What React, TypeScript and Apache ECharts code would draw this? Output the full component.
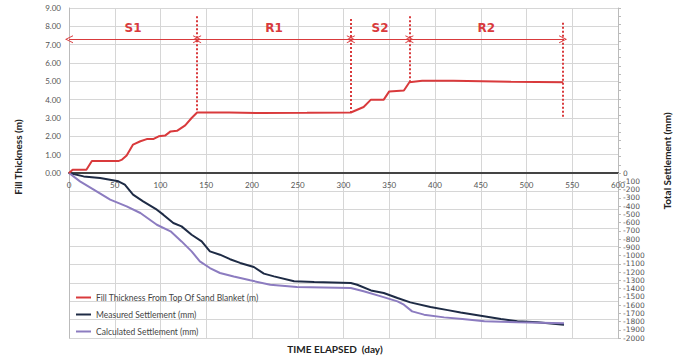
import React, { useEffect, useRef } from 'react';
import * as echarts from 'echarts';

const FONT = 'Lato, "Open Sans", sans-serif';

const fillName = 'Fill Thickness From Top Of Sand Blanket (m)';
const measuredName = 'Measured Settlement (mm)';
const calcName = 'Calculated Settlement (mm)';

const fillDays = [0, 4, 19, 25, 54, 58, 63, 70, 78, 85, 92, 98, 105, 111, 118, 127, 134, 140, 175, 210, 260, 308, 322, 330, 344, 350, 366, 372, 386, 420, 483, 540];
const fillThickness = [0, 0.18, 0.18, 0.65, 0.65, 0.73, 0.95, 1.55, 1.73, 1.85, 1.85, 2.0, 2.04, 2.27, 2.3, 2.6, 3.0, 3.3, 3.3, 3.27, 3.28, 3.3, 3.6, 4.0, 4.0, 4.45, 4.5, 4.95, 5.03, 5.03, 4.98, 4.95];

const measuredDays = [0, 16, 34, 54, 61, 70, 81, 96, 103, 114, 123, 134, 145, 154, 165, 176, 187, 202, 213, 224, 246, 268, 308, 315, 330, 344, 359, 373, 395, 414, 428, 450, 472, 490, 512, 541];
const measuredSettlement = [0, -41, -61, -101, -142, -263, -344, -445, -505, -606, -647, -748, -829, -950, -990, -1045, -1090, -1139, -1220, -1253, -1313, -1321, -1333, -1354, -1423, -1454, -1515, -1568, -1624, -1662, -1690, -1730, -1770, -1798, -1810, -1840];

const calcDays = [0, 12, 27, 45, 63, 78, 96, 111, 123, 134, 143, 154, 165, 180, 198, 220, 249, 308, 322, 341, 359, 366, 375, 388, 410, 430, 454, 490, 541];
const calcSettlement = [0, -101, -202, -323, -404, -485, -627, -707, -829, -950, -1071, -1152, -1212, -1255, -1301, -1354, -1382, -1394, -1434, -1495, -1556, -1596, -1677, -1717, -1750, -1770, -1798, -1810, -1820];

const phaseNames = ['S1', 'R1', 'S2', 'R2'];
const phaseStarts = [0, 140, 308, 372];
const phaseEnds = [140, 308, 372, 540];
const phaseArrowLevel = 7.3;

const markerDays = [140, 308, 372, 540];
const markerTops = [8.55, 8.4, 8.55, 8.2];
const markerBottoms = [3.3, 3.3, 4.95, 3.0];

const RED = '#d93a3c';
const NAVY = '#1e2b45';
const PURPLE = '#8c7cc0';
const GRID = '#d6d6d6';

const chevron = 'path://M0,10 L5,0 L10,10 L8.8,10 L5,2.4 L1.2,10 Z';

const GRID_TOP = 8;
const GRID_BOTTOM = 20;
const CHART_H = 358;

export default function App() {
  const ref = useRef<HTMLDivElement>(null);

  useEffect(() => {
    if (!ref.current) return;
    const chart = echarts.init(ref.current, undefined, { renderer: 'svg' });

    const zip = (xs: number[], ys: number[]) => xs.map((x, i) => [x, ys[i]]);
    const plotH = CHART_H - GRID_TOP - GRID_BOTTOM;

    const option: any = {
      animation: false,
      grid: { left: 69, right: 64, top: GRID_TOP, bottom: GRID_BOTTOM },
      legend: {
        orient: 'vertical',
        left: 76,
        top: 292,
        padding: 0,
        icon: 'rect',
        itemWidth: 15,
        itemHeight: 2,
        itemGap: 6,
        data: [fillName, measuredName, calcName],
        textStyle: { fontSize: 8.5, color: '#444', fontFamily: FONT, lineHeight: 11 },
      },
      xAxis: {
        type: 'value',
        min: 0,
        max: 600,
        interval: 50,
        position: 'bottom',
        offset: -plotH / 2,
        axisLine: { onZero: false, lineStyle: { color: '#444', width: 2 } },
        axisTick: { show: false },
        axisLabel: { fontSize: 8, color: '#555', margin: 8, fontFamily: FONT },
        splitLine: { show: true, lineStyle: { color: GRID } },
      },
      yAxis: [
        {
          type: 'value',
          min: -9,
          max: 9,
          interval: 1,
          position: 'left',
          axisLine: { show: true, lineStyle: { color: '#bbb' } },
          axisTick: { show: false },
          axisLabel: {
            fontSize: 8,
            color: '#555',
            margin: 8,
            fontFamily: FONT,
            formatter: (v: number) => (v >= 0 ? v.toFixed(2) : ''),
          },
          splitLine: { show: true, lineStyle: { color: GRID } },
        },
        {
          type: 'value',
          min: -2000,
          max: 2000,
          interval: 100,
          position: 'right',
          axisLine: { show: true, lineStyle: { color: '#bbb' } },
          axisTick: { show: true, length: 3, lineStyle: { color: '#bbb' } },
          axisLabel: {
            fontSize: 7.5,
            lineHeight: 8,
            color: '#555',
            margin: 5,
            fontFamily: '"DejaVu Sans", sans-serif',
            formatter: (v: number) => (v <= 0 ? String(v) : ''),
          },
          splitLine: { show: false },
        },
      ],
      series: [
        {
          name: fillName,
          type: 'line',
          yAxisIndex: 0,
          data: zip(fillDays, fillThickness),
          showSymbol: false,
          lineStyle: { color: RED, width: 2 },
          itemStyle: { color: RED },
          z: 5,
          markLine: {
            silent: true,
            symbol: 'none',
            label: { show: false },
            lineStyle: { color: RED, type: 'dotted', width: 2 },
            data: markerDays.map((d, i) => [
              { coord: [d, markerTops[i]] },
              { coord: [d, markerBottoms[i]] },
            ]),
          },
        },
        {
          name: measuredName,
          type: 'line',
          yAxisIndex: 1,
          data: zip(measuredDays, measuredSettlement),
          showSymbol: false,
          lineStyle: { color: NAVY, width: 2 },
          itemStyle: { color: NAVY },
        },
        {
          name: calcName,
          type: 'line',
          yAxisIndex: 1,
          data: zip(calcDays, calcSettlement),
          showSymbol: false,
          lineStyle: { color: PURPLE, width: 2 },
          itemStyle: { color: PURPLE },
        },
        {
          name: 'Phases',
          type: 'line',
          yAxisIndex: 0,
          data: [],
          markLine: {
            silent: true,
            symbol: [chevron, chevron],
            symbolSize: [8, 8],
            lineStyle: { color: RED, type: 'solid', width: 1 },
            itemStyle: { color: RED },
            label: {
              show: true,
              position: 'middle',
              formatter: '{b}',
              color: RED,
              fontSize: 12,
              fontWeight: 'bold',
              fontFamily: '"DejaVu Sans", sans-serif',
              distance: 5,
            },
            data: phaseNames.map((n, i) => [
              { name: n, coord: [phaseStarts[i], phaseArrowLevel] },
              { coord: [phaseEnds[i], phaseArrowLevel] },
            ]),
          },
        },
      ],
      graphic: [
        {
          type: 'text',
          x: 18,
          y: 157,
          rotation: Math.PI / 2,
          style: {
            text: 'Fill Thickness (m)',
            fontSize: 10,
            fontWeight: 'bold',
            fill: '#222',
            align: 'center',
            verticalAlign: 'middle',
            fontFamily: FONT,
          },
        },
        {
          type: 'text',
          x: 667,
          y: 161,
          rotation: Math.PI / 2,
          style: {
            text: 'Total Settlement (mm)',
            fontSize: 10,
            fontWeight: 'bold',
            fill: '#222',
            align: 'center',
            verticalAlign: 'middle',
            fontFamily: FONT,
          },
        },
        {
          type: 'text',
          x: 335,
          y: 349,
          style: {
            text: 'TIME ELAPSED  (day)',
            fontSize: 10,
            fontWeight: 'bold',
            fill: '#222',
            align: 'center',
            verticalAlign: 'middle',
            fontFamily: FONT,
          },
        },
      ],
    };

    chart.setOption(option);
    return () => chart.dispose();
  }, []);

  return (
    <div
      ref={ref}
      style={{ position: 'fixed', left: 0, top: 0, width: 682, height: 358, background: '#fff' }}
    />
  );
}
